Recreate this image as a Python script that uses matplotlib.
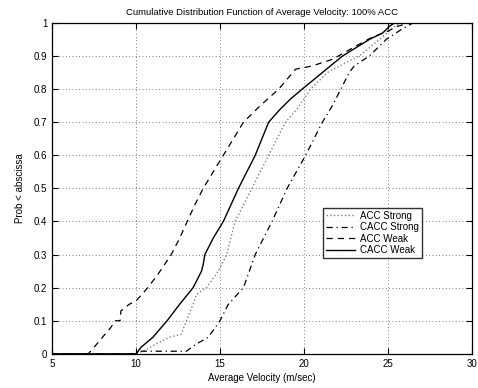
import numpy as np
import matplotlib
matplotlib.use('Agg')
import matplotlib.pyplot as plt

plt.rcParams['font.family'] = ['Liberation Sans', 'DejaVu Sans']

# ACC Strong (dotted)
acc_s_x = [5, 10.0, 10.5, 11.2, 12.0, 12.7, 13.0, 13.4, 13.6, 14.2, 14.9, 15.4, 15.9, 16.9, 17.9,
           18.9, 19.6, 20.4, 21.4, 22.5, 23.3, 24.5, 25.2, 25.7, 30]
acc_s_y = [0, 0, 0.01, 0.03, 0.05, 0.06, 0.1, 0.15, 0.18, 0.2, 0.25, 0.3, 0.4, 0.5, 0.6,
           0.7, 0.74, 0.8, 0.85, 0.88, 0.9, 0.95, 0.98, 1.0, 1.0]
# CACC Strong (dash-dot)
cacc_s_x = [5, 10.0, 10.1, 13.0, 13.6, 14.3, 15.0, 15.5, 16.4, 17.1, 18.1, 19.0, 20.1, 21.1,
            21.7, 22.2, 22.7, 23.0, 23.9, 24.9, 25.8, 26.5, 30]
cacc_s_y = [0, 0, 0.008, 0.008, 0.03, 0.05, 0.1, 0.15, 0.2, 0.3, 0.4, 0.5, 0.6, 0.7,
            0.75, 0.8, 0.85, 0.87, 0.9, 0.95, 0.98, 1.0, 1.0]
# ACC Weak (dashed)
acc_w_x = [5, 7.15, 7.5, 8.0, 8.5, 8.75, 9.05, 9.1, 9.6, 10.0, 10.7, 11.3, 12.1, 12.6, 13.05,
           13.5, 14.0, 14.6, 15.2, 15.8, 16.4, 17.4, 18.5, 19.5, 20.5, 21.7, 22.4, 23.1, 24.0,
           25.0, 25.6, 26.3, 30]
acc_w_y = [0, 0, 0.02, 0.05, 0.08, 0.1, 0.1, 0.13, 0.15, 0.16, 0.2, 0.24, 0.3, 0.35, 0.4,
           0.45, 0.5, 0.55, 0.6, 0.65, 0.7, 0.75, 0.8, 0.86, 0.87, 0.89, 0.91, 0.93, 0.955,
           0.975, 0.99, 1.0, 1.0]
# CACC Weak (solid)
cacc_w_x = [5, 10.0, 10.3, 11.0, 11.85, 12.6, 13.4, 13.9, 14.0, 14.1, 14.6, 15.2, 16.1, 17.1,
            17.9, 18.6, 19.2, 19.9, 21.1, 22.3, 23.9, 24.7, 25.1, 25.4, 30]
cacc_w_y = [0, 0, 0.02, 0.05, 0.1, 0.15, 0.2, 0.25, 0.27, 0.3, 0.35, 0.4, 0.5, 0.6,
            0.7, 0.74, 0.77, 0.8, 0.85, 0.9, 0.95, 0.97, 0.99, 1.0, 1.0]

labels = ['ACC Strong', 'CACC Strong', 'ACC Weak', 'CACC Weak']

fig = plt.figure(figsize=(4.78, 3.88), dpi=100)
ax = fig.add_axes([0.109, 0.088, 0.878, 0.853])

ax.plot(acc_s_x, acc_s_y, ls=':', color='#808080', lw=1.0, label=labels[0])
ax.plot(cacc_s_x, cacc_s_y, ls='-.', color='black', lw=0.9, dashes=(5, 3, 1, 3), label=labels[1])
ax.plot(acc_w_x, acc_w_y, ls='--', color='black', lw=0.9, dashes=(5, 4), label=labels[2])
ax.plot(cacc_w_x, cacc_w_y, ls='-', color='black', lw=1.0, label=labels[3])

ax.set_xlim(5, 30)
ax.set_ylim(0, 1)
ax.set_xticks(np.arange(5, 31, 5))
ax.set_yticks(np.arange(0, 1.01, 0.1))
ax.set_yticklabels(['0', '0.1', '0.2', '0.3', '0.4', '0.5', '0.6', '0.7', '0.8', '0.9', '1'])
ax.grid(ls=(0, (1, 3)), color='#555555', lw=0.6)
ax.tick_params(direction='in', top=True, right=True, labelsize=7, length=4, width=0.8)
for sp in ax.spines.values():
    sp.set_linewidth(0.9)

ax.set_title('Cumulative Distribution Function of Average Velocity: 100% ACC', fontsize=6.8, pad=6)
ax.set_xlabel('Average Velocity (m/sec)', fontsize=7, labelpad=3)
ax.set_ylabel('Prob < abscissa', fontsize=7, labelpad=6)

leg = ax.legend(loc='upper left', bbox_to_anchor=(0.645, 0.441), fontsize=7, frameon=True,
                fancybox=False, edgecolor='black', handlelength=3, borderpad=0.3,
                labelspacing=0.15, handletextpad=0.5, borderaxespad=0)
leg.get_frame().set_linewidth(1.0)

fig.savefig('out.png', dpi=100)
